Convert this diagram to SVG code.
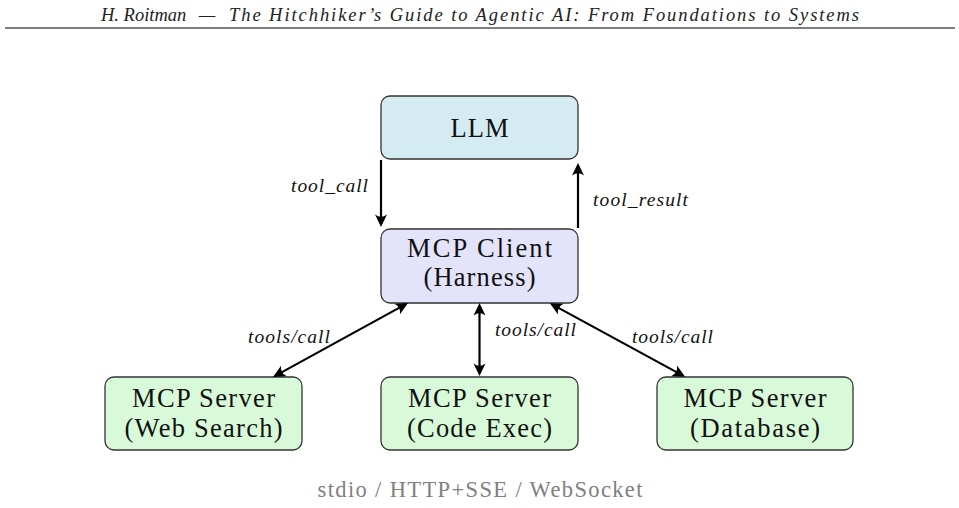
<svg xmlns="http://www.w3.org/2000/svg" width="959" height="508" viewBox="0 0 959 508">
<style>
  .box { stroke: #333333; stroke-width: 1.3; }
  .llm { fill: #d3ebf1; }
  .client { fill: #e3e3fa; }
  .server { fill: #d9fad9; }
  .main { font-family: "Liberation Serif", "Times New Roman", serif; font-size: 26.5px; fill: #111111; text-anchor: middle; }
  .lbl { font-family: "Liberation Serif", "Times New Roman", serif; font-style: italic; font-size: 19.5px; fill: #111111; }
  .hdr { font-family: "Liberation Serif", "Times New Roman", serif; font-style: italic; font-size: 18.5px; fill: #222222; }
  .foot { font-family: "Liberation Serif", "Times New Roman", serif; font-size: 22.5px; fill: #808080; text-anchor: middle; }
  .edge { stroke: #000000; stroke-width: 2.2; fill: none; }
</style>
<defs>
  <marker id="ah" viewBox="-14 -7 15 14" refX="-3" refY="0" markerWidth="15" markerHeight="14" markerUnits="userSpaceOnUse" orient="auto-start-reverse">
    <path d="M0,0 L-12.5,-6 Q-8,0 -12.5,6 Z" fill="#000000"/>
  </marker>
</defs>
<rect width="959" height="508" fill="#ffffff"/>

<g id="header">
  <text class="hdr" x="101" y="21">H. Roitman</text>
  <text class="hdr" x="207" y="21" text-anchor="middle">—</text>
  <text class="hdr" x="229" y="21" textLength="630" lengthAdjust="spacing">The Hitchhiker’s Guide to Agentic AI: From Foundations to Systems</text>
  <line x1="5" y1="28" x2="955" y2="28" stroke="#555555" stroke-width="1.3"/>
</g>

<g id="llm">
  <rect class="box llm" x="381" y="96" width="197" height="63" rx="9"/>
  <text class="main" x="479.5" y="137" textLength="58" lengthAdjust="spacing">LLM</text>
</g>

<g id="client">
  <rect class="box client" x="381" y="229" width="197" height="74" rx="9"/>
  <text class="main" x="479.5" y="257" textLength="145" lengthAdjust="spacing">MCP Client</text>
  <text class="main" x="479.5" y="286" textLength="112" lengthAdjust="spacing">(Harness)</text>
</g>

<g id="server-web">
  <rect class="box server" x="105" y="377" width="197" height="73" rx="9"/>
  <text class="main" x="203.5" y="407" textLength="143" lengthAdjust="spacing">MCP Server</text>
  <text class="main" x="203.5" y="437" textLength="158" lengthAdjust="spacing">(Web Search)</text>
</g>

<g id="server-code">
  <rect class="box server" x="381" y="377" width="197" height="73" rx="9"/>
  <text class="main" x="479.5" y="407" textLength="143" lengthAdjust="spacing">MCP Server</text>
  <text class="main" x="479.5" y="437" textLength="145" lengthAdjust="spacing">(Code Exec)</text>
</g>

<g id="server-db">
  <rect class="box server" x="657" y="377" width="196" height="73" rx="9"/>
  <text class="main" x="755" y="407" textLength="143" lengthAdjust="spacing">MCP Server</text>
  <text class="main" x="755" y="437" textLength="130" lengthAdjust="spacing">(Database)</text>
</g>

<g id="connectors">
  <line class="edge" x1="381" y1="160" x2="381" y2="224" marker-end="url(#ah)"/>
  <line class="edge" x1="578" y1="228" x2="578" y2="166" marker-end="url(#ah)"/>
  <line class="edge" x1="405.4" y1="304.4" x2="275.6" y2="375.6" marker-start="url(#ah)" marker-end="url(#ah)"/>
  <line class="edge" x1="479.5" y1="306" x2="479.5" y2="373" marker-start="url(#ah)" marker-end="url(#ah)"/>
  <line class="edge" x1="552.5" y1="304.6" x2="682.5" y2="375.4" marker-start="url(#ah)" marker-end="url(#ah)"/>
  <text class="lbl" x="291" y="192" textLength="77" lengthAdjust="spacing">tool_call</text>
  <text class="lbl" x="593" y="206" textLength="95" lengthAdjust="spacing">tool_result</text>
  <text class="lbl" x="248" y="343" textLength="82" lengthAdjust="spacing">tools/call</text>
  <text class="lbl" x="495" y="336" textLength="81" lengthAdjust="spacing">tools/call</text>
  <text class="lbl" x="632" y="343" textLength="81" lengthAdjust="spacing">tools/call</text>
</g>

<g id="footer">
  <text class="foot" x="480" y="497" textLength="325" lengthAdjust="spacing">stdio / HTTP+SSE / WebSocket</text>
</g>
</svg>
